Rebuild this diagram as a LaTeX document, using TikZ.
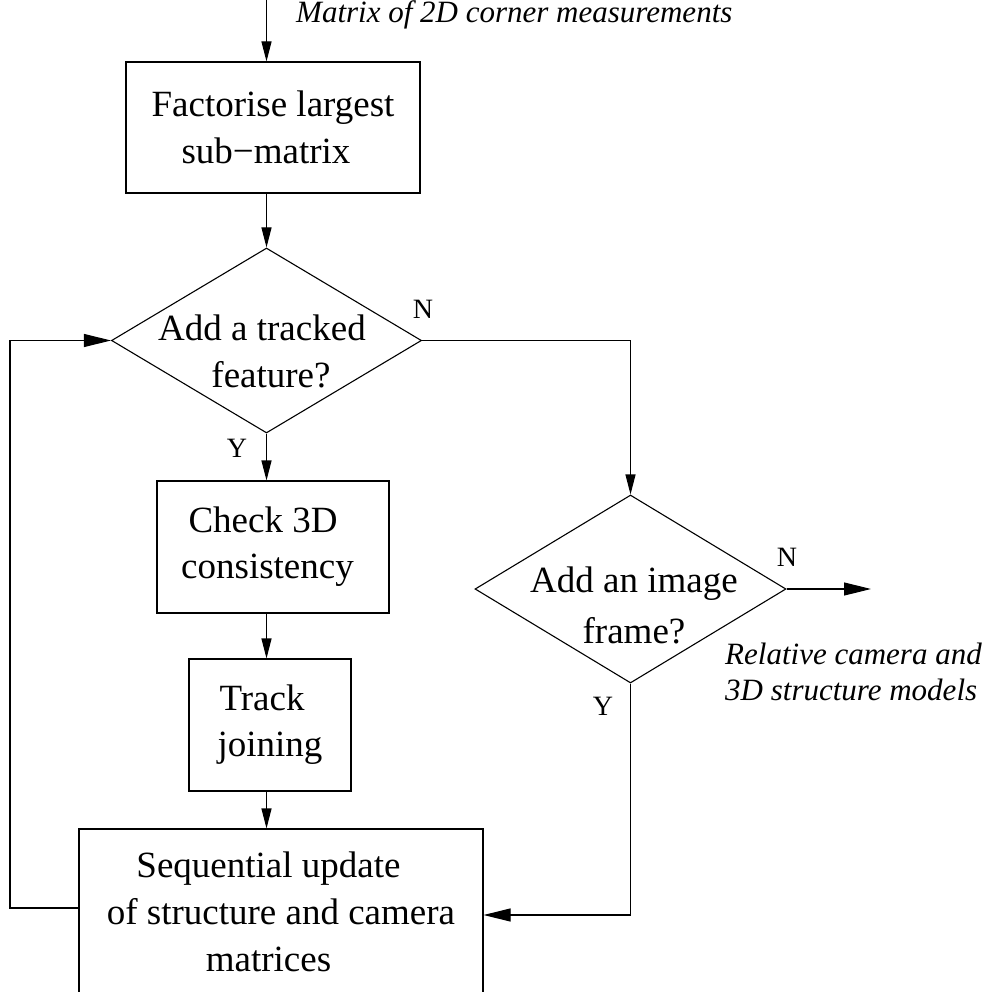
\documentclass[tikz,border=0pt]{standalone}
\usepackage{fontspec}
\setmainfont{Liberation Serif}
\usetikzlibrary{arrows.meta,shapes.geometric}
\begin{document}
\begin{tikzpicture}[x=1pt,y=-1pt,
  every node/.style={inner sep=0pt},
  proc/.style={draw, line width=1.1pt, align=center, font=\fontsize{37}{47}\selectfont},
  dec/.style={draw, diamond, line width=1.1pt},
  dtext/.style={align=center},
  lab/.style={font=\fontsize{28}{28}\selectfont},
  note/.style={font=\fontsize{31}{36}\selectfont\itshape},
  conn/.style={line width=1.1pt},
  vtip/.style={-{Triangle[length=20pt,width=10pt]}},
  htip/.style={-{Triangle[length=27pt,width=13pt]}},
]
\useasboundingbox (0,0) rectangle (984,992);
\clip (0,0) rectangle (984,992);

% process boxes
\node[proc, minimum width=294pt, minimum height=131pt] (b1) at (273,127.5) {Factorise largest\\sub−matrix\hspace*{14pt}};
\node[proc, minimum width=232pt, minimum height=132pt, font=\fontsize{37}{46}\selectfont] (b2) at (273,547) {Check 3D\hspace*{20pt}\\consistency\hspace*{11pt}};
\node[proc, minimum width=162pt, minimum height=132pt, font=\fontsize{37}{46}\selectfont] (b3) at (270,725) {Track\hspace*{16pt}\\joining};
\node[proc, minimum width=404pt, minimum height=166pt] (b4) at (281,912) {Sequential update\hspace*{25pt}\\of structure and camera\\matrices\hspace*{25pt}};

% decisions
\node[dec, minimum width=310pt, minimum height=185pt] (d1) at (266.5,340.5) {};
\node[dtext, font=\fontsize{37}{47}\selectfont] (d1t) at (266.5,351) {Add a tracked\hspace*{9pt}\\\hspace*{9pt}feature?};
\node[dec, minimum width=311pt, minimum height=188pt] (d2) at (630.5,589) {};
\node[dtext, font=\fontsize{37}{51}\selectfont] (d2t) at (634,605) {Add an image\\frame?};

% labels
\node[lab] (n1) at (423,309) {N};
\node[lab] (y1) at (237,448) {Y};
\node[lab] (n2) at (787,557) {N};
\node[lab] (y2) at (603,706) {Y};

% notes
\node[note, anchor=base west] (top) at (296,23) {Matrix of 2D corner measurements};
\node[note, anchor=north west, align=left] (res) at (725,643) {Relative camera and\\3D structure models};

% connector end points
\coordinate (in) at (266.5,0);
\coordinate (out) at (871,589);
\coordinate (j2) at (630.5,915);
\coordinate (lp) at (10,908);

% connectors
\draw[conn, vtip] (in) -- (in |- b1.north);
\draw[conn, vtip] (d1.north |- b1.south) -- (d1.north);
\draw[conn, vtip] (d1.south) -- (d1.south |- b2.north);
\draw[conn, vtip] (d1.south |- b2.south) -- (d1.south |- b3.north);
\draw[conn, vtip] (d1.south |- b3.south) -- (d1.south |- b4.north);
\draw[conn, vtip] (d1.east) -| (d2.north);
\draw[conn, htip] (d2.east) -- (out);
\draw[conn, htip] (d2.south) -- (j2) -- (j2 -| b4.east);
\draw[conn, htip] (lp -| b4.west) -- (lp) |- (d1.west);
\end{tikzpicture}
\end{document}
